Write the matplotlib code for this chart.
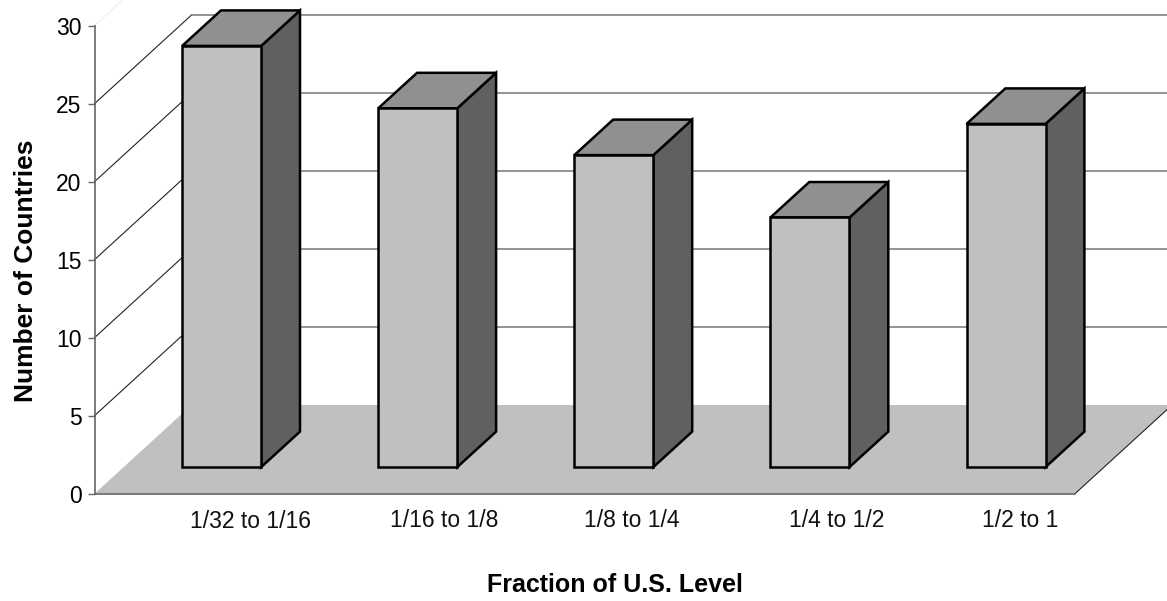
import matplotlib

matplotlib.use("Agg")
import matplotlib.pyplot as plt
from matplotlib.patches import Polygon

categories = ["1/32 to 1/16", "1/16 to 1/8", "1/8 to 1/4", "1/4 to 1/2", "1/2 to 1"]
counts = [27, 23, 20, 16, 22]
y_ticks = [0, 5, 10, 15, 20, 25, 30]

# layout in pixels of the 1167x601 picture
W, H = 1167, 601
x0, x1 = 94.5, 1075
y0, y1 = 493.7, 25.7
label_px = [250.5, 444, 632, 837, 1020]
label_base = [528, 527, 527, 527, 527]

# 3d look: how far the back wall sits from the front plane, in data units
depth_x = 97 / 196
depth_y = 88.7 / 15.6
bar_front = 0.30
bar_depth = 0.40
bar_width = 0.403


def project(x, y, depth):
    return (x + depth * depth_x, y + depth * depth_y)


plt.rcParams["font.family"] = ["Liberation Sans", "DejaVu Sans"]

fig = plt.figure(figsize=(W / 100, H / 100), dpi=100)
ax = fig.add_axes([x0 / W, 1 - y0 / H, (x1 - x0) / W, (y0 - y1) / H])
ax.set_xlim(0, len(categories))
ax.set_ylim(0, 30)

for side in ["top", "right"]:
    ax.spines[side].set_visible(False)
ax.spines["left"].set_color("#666666")
ax.spines["left"].set_linewidth(1.2)
ax.spines["bottom"].set_color("#666666")
ax.spines["bottom"].set_linewidth(1.2)
ax.spines["bottom"].set_zorder(2)
ax.set_xticks([])
ax.set_yticks(y_ticks)
ax.tick_params(axis="y", length=5, width=1, color="#666666", pad=4.2, labelsize=16.5)
ax.patch.set_visible(False)

# floor
floor = [project(0, 0, 0), project(5, 0, 0), project(5, 0, 1), project(0, 0, 1)]
ax.add_patch(Polygon(floor, closed=True, fc="#c0c0c0", ec="none", clip_on=False, zorder=1))
ax.plot(*zip(project(5, 0, 0), project(5, 0, 1)), color="#222222", lw=0.8, clip_on=False, zorder=1.5)

# wall lines
for t in y_ticks[1:]:
    color = "#eeeeee" if t == 30 else "#222222"
    ax.plot(*zip(project(0, t, 0), project(0, t, 1)), color=color, lw=0.8, clip_on=False, zorder=1.5)
    ax.plot(*zip(project(0, t, 1), project(5, t, 1)), color="#777777", lw=1.1, clip_on=False, zorder=1.5)

# bars
for i, value in enumerate(counts):
    left = i + 0.5 - bar_width / 2
    right = i + 0.5 + bar_width / 2
    front = [
        project(left, 0, bar_front),
        project(right, 0, bar_front),
        project(right, value, bar_front),
        project(left, value, bar_front),
    ]
    side = [
        project(right, 0, bar_front),
        project(right, 0, bar_front + bar_depth),
        project(right, value, bar_front + bar_depth),
        project(right, value, bar_front),
    ]
    top = [
        project(left, value, bar_front),
        project(right, value, bar_front),
        project(right, value, bar_front + bar_depth),
        project(left, value, bar_front + bar_depth),
    ]
    for pts, color in [(side, "#606060"), (top, "#909090"), (front, "#c0c0c0")]:
        ax.add_patch(
            Polygon(pts, closed=True, fc=color, ec="black", lw=1.8, joinstyle="miter", clip_on=False, zorder=3)
        )

for name, px, base in zip(categories, label_px, label_base):
    fig.text(px / W, 1 - base / H, name, ha="center", va="baseline", fontsize=16.5, color="#111111")

fig.text(614.5 / W, 1 - 592 / H, "Fraction of U.S. Level", ha="center", va="baseline", fontsize=18, fontweight="bold")
fig.text(
    33 / W,
    1 - 271 / H,
    "Number of Countries",
    ha="center",
    va="baseline",
    rotation=90,
    rotation_mode="anchor",
    fontsize=19,
    fontweight="bold",
)

fig.savefig("out.png", dpi=100)
